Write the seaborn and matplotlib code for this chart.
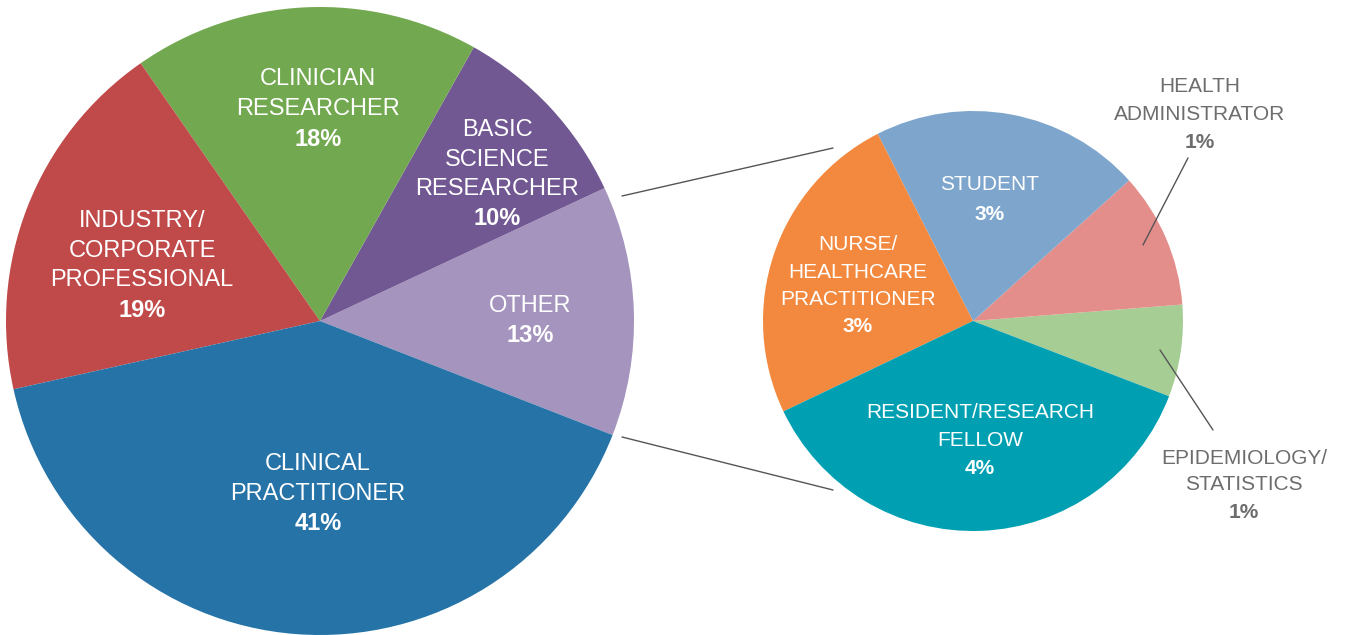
import seaborn as sns
import matplotlib.pyplot as plt

# main pie
main_names = ["OTHER", "BASIC\nSCIENCE\nRESEARCHER", "CLINICIAN\nRESEARCHER",
              "INDUSTRY/\nCORPORATE\nPROFESSIONAL", "CLINICAL\nPRACTITIONER"]
main_values = [13, 10, 18, 19, 41]
main_labels = ["13%", "10%", "18%", "19%", "41%"]
main_colors = ["#a594bd", "#725893", "#72a84f", "#c0494a", "#2573a7"]

# breakdown of OTHER
sub_names = ["EPIDEMIOLOGY/\nSTATISTICS", "HEALTH\nADMINISTRATOR", "STUDENT",
             "NURSE/\nHEALTHCARE\nPRACTITIONER", "RESIDENT/RESEARCH\nFELLOW"]
sub_values = [0.85, 1.25, 2.5, 2.95, 4.45]
sub_labels = ["1%", "1%", "3%", "3%", "4%"]
sub_colors = ["#a6cd94", "#e48e8b", "#7ea6cd", "#f2893e", "#00a0b2"]

W, H = 1347, 635

sns.set_style('white')
plt.rcParams['font.family'] = ['Liberation Sans', 'DejaVu Sans']

fig = plt.figure(figsize=(W / 100, H / 100), dpi=100)
ax = fig.add_axes([0, 0, 1, 1])

def Y(y):
    return H - y

ax.pie(main_values, colors=main_colors, startangle=-21.3, center=(320, Y(321)),
       radius=314, wedgeprops=dict(linewidth=0), frame=True)
ax.pie(sub_values, colors=sub_colors, startangle=-21, center=(973, Y(321)),
       radius=210, wedgeprops=dict(linewidth=0), frame=True)
ax.set_xlim(0, W)
ax.set_ylim(0, H)
ax.set_aspect('equal')
ax.axis('off')

# connector lines between the pies
ax.plot([622, 833], [Y(196), Y(148)], color='#555555', lw=1)
ax.plot([622, 833], [Y(437), Y(490)], color='#555555', lw=1)

# label anchors: (x of centre, y of first line, line step)
main_pos = [(530, 306, 30), (497, 130, 29.5), (318, 79, 30), (142, 221, 29.7), (318, 464, 29.5)]
sub_pos = [(1244, 458, 27), (1200, 87, 27.5), (990, 185, 29), (858, 245, 27.3), (980, 413, 27.5)]

def put_label(name, pct, pos, color, size):
    x, y0, step = pos
    lines = name.split('\n')
    for i, line in enumerate(lines):
        ax.text(x, Y(y0 + i * step), line, ha='center', va='center', color=color,
                fontsize=size)
    ax.text(x, Y(y0 + len(lines) * step), pct, ha='center', va='center', color=color,
            fontsize=size, fontweight='bold')

for n, p, pos in zip(main_names, main_labels, main_pos):
    put_label(n, p, pos, 'white', 17)

for i, (n, p, pos) in enumerate(zip(sub_names, sub_labels, sub_pos)):
    col = '#6d6d6d' if i < 2 else 'white'
    put_label(n, p, pos, col, 15)

# leader lines for the outside labels
ax.plot([1188, 1143], [Y(158), Y(245)], color='#555555', lw=1)
ax.plot([1213, 1160], [Y(430), Y(350)], color='#555555', lw=1)

fig.savefig('out.png', dpi=100)
